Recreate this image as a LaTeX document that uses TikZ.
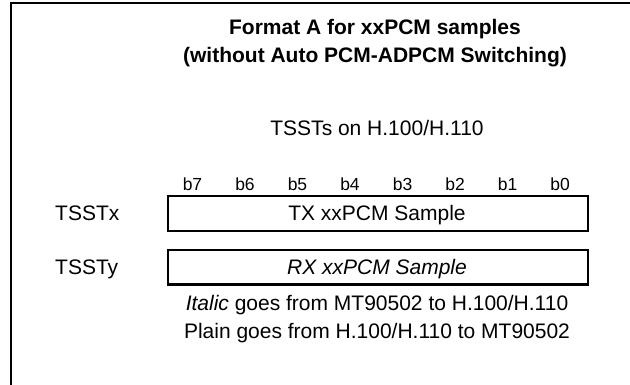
\documentclass[tikz,border=0pt]{standalone}
\usepackage{fontspec}
\setmainfont{Liberation Sans}
\begin{document}
\begin{tikzpicture}[x=1pt,y=-1pt,
  txt/.style={inner sep=0pt, anchor=base, font=\fontsize{21}{25}\selectfont},
  bit/.style={inner sep=0pt, anchor=base, font=\fontsize{17.5}{21}\selectfont},
  ttl/.style={inner sep=0pt, anchor=base, font=\fontsize{21}{25}\selectfont\bfseries},
  slot/.style={draw, line width=2pt, minimum width=420pt, minimum height=34.5pt, inner sep=0pt, anchor=north west}]
\useasboundingbox (0,0) rectangle (630,385);
\draw[line width=2pt] (11,385) -- (11,3) -- (630,3);
\node[ttl] (t1) at (375,35) {Format A for xxPCM samples};
\node[ttl] (t2) at (375,63) {(without Auto PCM-ADPCM Switching)};
\node[txt] (hdr) at (377,136) {TSSTs on H.100/H.110};
\foreach \b [count=\i from 0] in {7,6,5,4,3,2,1,0}
  \node[bit] (b\b) at ({192.5+52.5*\i},191) {b\b};
\node[slot] (tx) at (167,195.5) {};
\node[slot] (rx) at (167,249) {};
\node[txt] (txl) at (377,220.5) {TX xxPCM Sample};
\node[txt] (rxl) at (377,274) {\itshape RX xxPCM Sample};
\node[txt, anchor=base west] (lx) at (55,220.5) {TSSTx};
\node[txt, anchor=base west] (ly) at (55,274) {TSSTy};
\node[txt] (n1) at (377,310) {\itshape Italic\upshape{} goes from MT90502 to H.100/H.110};
\node[txt] (n2) at (377,338) {Plain goes from H.100/H.110 to MT90502};
\end{tikzpicture}
\end{document}
